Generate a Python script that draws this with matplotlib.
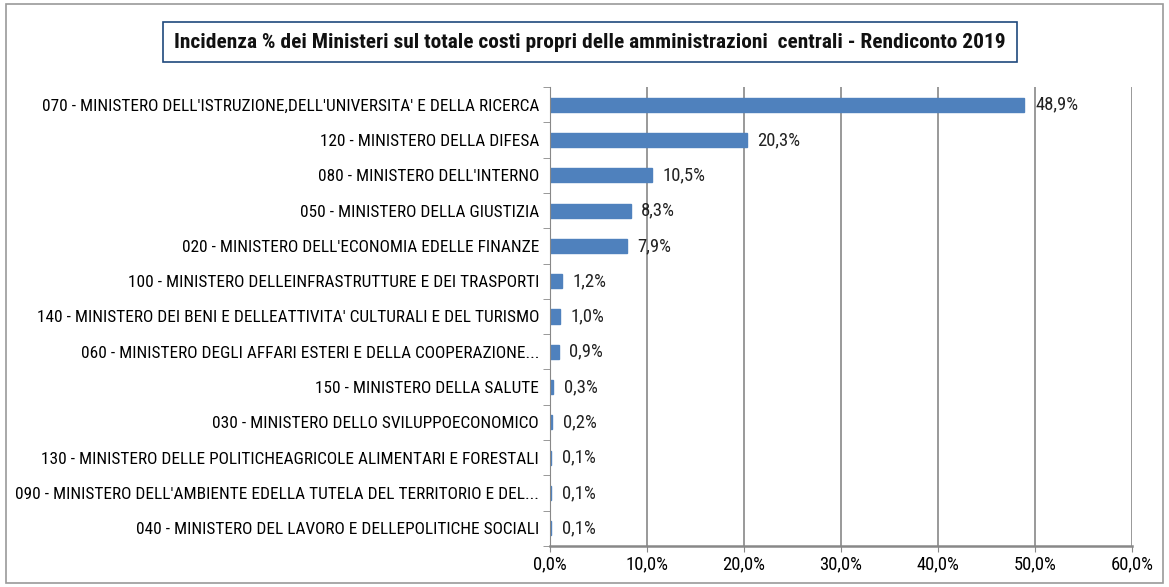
import matplotlib
matplotlib.use("Agg")
import matplotlib.pyplot as plt
from matplotlib import font_manager
from matplotlib.patches import Rectangle
from matplotlib.ticker import FixedLocator, NullFormatter

categories = [
    "070 - MINISTERO DELL'ISTRUZIONE,DELL'UNIVERSITA' E DELLA RICERCA",
    "120 - MINISTERO DELLA DIFESA",
    "080 - MINISTERO DELL'INTERNO",
    "050 - MINISTERO DELLA GIUSTIZIA",
    "020 - MINISTERO DELL'ECONOMIA EDELLE FINANZE",
    "100 - MINISTERO DELLEINFRASTRUTTURE E DEI TRASPORTI",
    "140 - MINISTERO DEI BENI E DELLEATTIVITA' CULTURALI E DEL TURISMO",
    "060 - MINISTERO DEGLI AFFARI ESTERI E DELLA COOPERAZIONE...",
    "150 - MINISTERO DELLA SALUTE",
    "030 - MINISTERO DELLO SVILUPPOECONOMICO",
    "130 - MINISTERO DELLE POLITICHEAGRICOLE ALIMENTARI E FORESTALI",
    "090 - MINISTERO DELL'AMBIENTE EDELLA TUTELA DEL TERRITORIO E DEL...",
    "040 - MINISTERO DEL LAVORO E DELLEPOLITICHE SOCIALI",
]
values = [48.9, 20.3, 10.5, 8.3, 7.9, 1.2, 1.0, 0.9, 0.3, 0.2, 0.1, 0.1, 0.1]
xticks = [0, 10, 20, 30, 40, 50, 60]
title = "Incidenza % dei Ministeri sul totale costi propri delle amministrazioni  centrali - Rendiconto 2019"

entries = font_manager.fontManager.ttflist
avail = {f.name for f in entries}
stretch = "normal"
fam = "DejaVu Sans"
for cand in ["Liberation Sans Narrow", "Roboto Condensed", "Open Sans Condensed",
             "Noto Sans Condensed"]:
    if cand in avail:
        fam = cand
        break
else:
    if any(f.name == "DejaVu Sans" and "ondensed" in f.fname for f in entries):
        stretch = "condensed"
    elif "Roboto" in avail:
        fam = "Roboto"
plt.rcParams["font.family"] = [fam, "DejaVu Sans"]
plt.rcParams["font.stretch"] = stretch

W, H = 1169, 587
fig = plt.figure(figsize=(W / 100, H / 100), dpi=100)
renderer = fig.canvas.get_renderer()


def text_width(text, weight="normal", base=12.0):
    t = fig.text(0, 0, text, fontsize=base, fontweight=weight, fontstretch=stretch)
    w = t.get_window_extent(renderer).width
    t.remove()
    return w


lab_fs = 12.0 * 518 / max(text_width(c) for c in categories)
title_fs = 12.0 * 832 / text_width(title, weight="bold")
num_fs = min(lab_fs * 1.08, 13.5)

# outer border
fig.patches.append(Rectangle((6 / W, 4 / H), (W - 12) / W, (H - 8) / H,
                             transform=fig.transFigure, fill=False,
                             edgecolor="#9a9a9a", linewidth=1.2))

ax = fig.add_axes([550 / W, 1 - 546 / H, (1132 - 550) / W, (546 - 87) / H])
n = len(categories)
ypos = list(range(n))
ax.barh(ypos, values, height=0.4, color="#4F81BD", edgecolor="#4F81BD")
ax.set_ylim(n - 0.5, -0.5)
ax.set_xlim(0, 60)

for y, v in zip(ypos, values):
    ax.text(v + 1.1, y, f"{v:.1f}%".replace(".", ","), va="center", ha="left",
            fontsize=num_fs, color="#222222")

ax.set_xticks(xticks)
ax.set_xticklabels([f"{t:.1f}%".replace(".", ",") for t in xticks], fontsize=num_fs)
ax.set_yticks(ypos)
ax.set_yticklabels(categories, fontsize=lab_fs)
ax.tick_params(axis="y", length=0, pad=8)
ax.yaxis.set_minor_locator(FixedLocator([i - 0.5 for i in range(n + 1)]))
ax.yaxis.set_minor_formatter(NullFormatter())
ax.tick_params(axis="y", which="minor", length=5, color="#888888")
ax.tick_params(axis="x", length=4, color="#888888", pad=2.5)

ax.grid(axis="x", color="#888888", linewidth=1.2)
ax.set_axisbelow(True)
for s in ["top", "right"]:
    ax.spines[s].set_visible(False)
ax.spines["left"].set_color("#888888")
ax.spines["bottom"].set_color("#888888")
ax.spines["bottom"].set_linewidth(1.8)

fig.text(590 / W, 1 - 42 / H, title, ha="center", va="center",
         fontsize=title_fs, fontweight="bold", color="#111111",
         bbox=dict(boxstyle="square,pad=0.5", facecolor="white",
                   edgecolor="#1F497D", linewidth=1.2))

fig.savefig("out.png", dpi=100)
